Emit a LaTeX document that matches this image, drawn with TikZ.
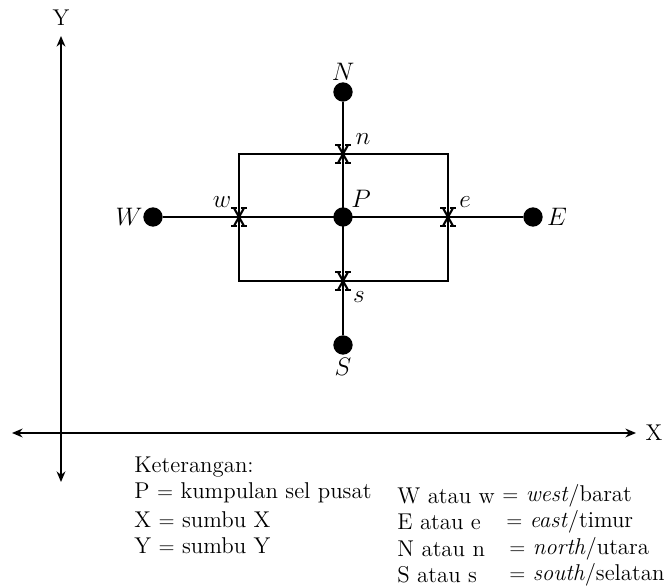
\documentclass[tikz,border=0pt]{standalone}
\usetikzlibrary{arrows.meta}

\begin{document}
\begin{tikzpicture}[
  x=0.02cm, y=0.02cm,
  axis/.style={{Stealth[length=6pt,width=5pt]}-{Stealth[length=6pt,width=5pt]}, line width=1.3pt},
  grid line/.style={line width=1.4pt},
  dot/.style={circle, fill=black, inner sep=0pt, minimum size=11pt},
  lbl/.style={font=\fontsize{14}{16}\selectfont, inner sep=1pt},
  legend/.style={anchor=west, inner sep=0pt, font=\fontsize{13}{15}\selectfont},
  xmark/.pic={
    \draw[line width=1.2pt] (-5,-9) -- (5,9) (5,-9) -- (-5,9);
    \draw[line width=0.8pt] (-8,9) -- (-2,9) (2,9) -- (8,9)
                            (-8,-9) -- (-2,-9) (2,-9) -- (8,-9);
  }
]
\useasboundingbox (0,0) rectangle (667,588);

% axes
\coordinate (Ytop) at (61,552);
\coordinate (Ybot) at (61,106);
\coordinate (Xleft) at (12,155);
\coordinate (Xright) at (636,155);
\draw[axis] (Ybot) -- (Ytop);
\draw[axis] (Xleft) -- (Xright);
\node[legend, anchor=center] (Ylab) at (61,570) {Y};
\node[legend, anchor=center] (Xlab) at (654,155) {X};

% control volume
\coordinate (n) at (343,434);
\coordinate (s) at (343,307);
\coordinate (w) at (239,371);
\coordinate (e) at (448,371);
\draw[grid line] (239,307) rectangle (448,434);

\node[dot] (N) at (343,496) {};
\node[dot] (S) at (343,243) {};
\node[dot] (W) at (153,371) {};
\node[dot] (E) at (533,371) {};
\node[dot] (P) at (343,371) {};

\draw[grid line] (W) -- (E);
\draw[grid line] (N) -- (S);

\pic at (n) {xmark};
\pic at (s) {xmark};
\pic at (w) {xmark};
\pic at (e) {xmark};

% labels
\node[lbl] (lN) at (343,516) {$N$};
\node[lbl] (lS) at (343,221) {$S$};
\node[lbl] (lW) at (129,371) {$W$};
\node[lbl] (lE) at (557,371) {$E$};
\node[lbl] (lP) at (361,389) {$P$};
\node[lbl] (ln) at (363,449) {$n$};
\node[lbl] (ls) at (359,291) {$s$};
\node[lbl] (lw) at (222,386) {$w$};
\node[lbl] (le) at (465,386) {$e$};

% keterangan
\node[legend] (k0) at (134,121) {Keterangan:};
\node[legend] (k1) at (134,95) {P $=$ kumpulan sel pusat};
\node[legend] (k2) at (134,68) {X $=$ sumbu X};
\node[legend] (k3) at (134,42) {Y $=$ sumbu Y};

\node[legend] (kW) at (397,92) {W atau w};
\node[legend] (kE) at (397,66) {E atau e};
\node[legend] (kN) at (397,39) {N atau n};
\node[legend] (kS) at (397,13) {S atau s};
\node[legend] (vW) at (502,92) {$=$ \textit{west}/barat};
\node[legend] (vE) at (506,66) {$=$ \textit{east}/timur};
\node[legend] (vN) at (509,39) {$=$ \textit{north}/utara};
\node[legend] (vS) at (509,13) {$=$ \textit{south}/selatan};

\end{tikzpicture}
\end{document}
